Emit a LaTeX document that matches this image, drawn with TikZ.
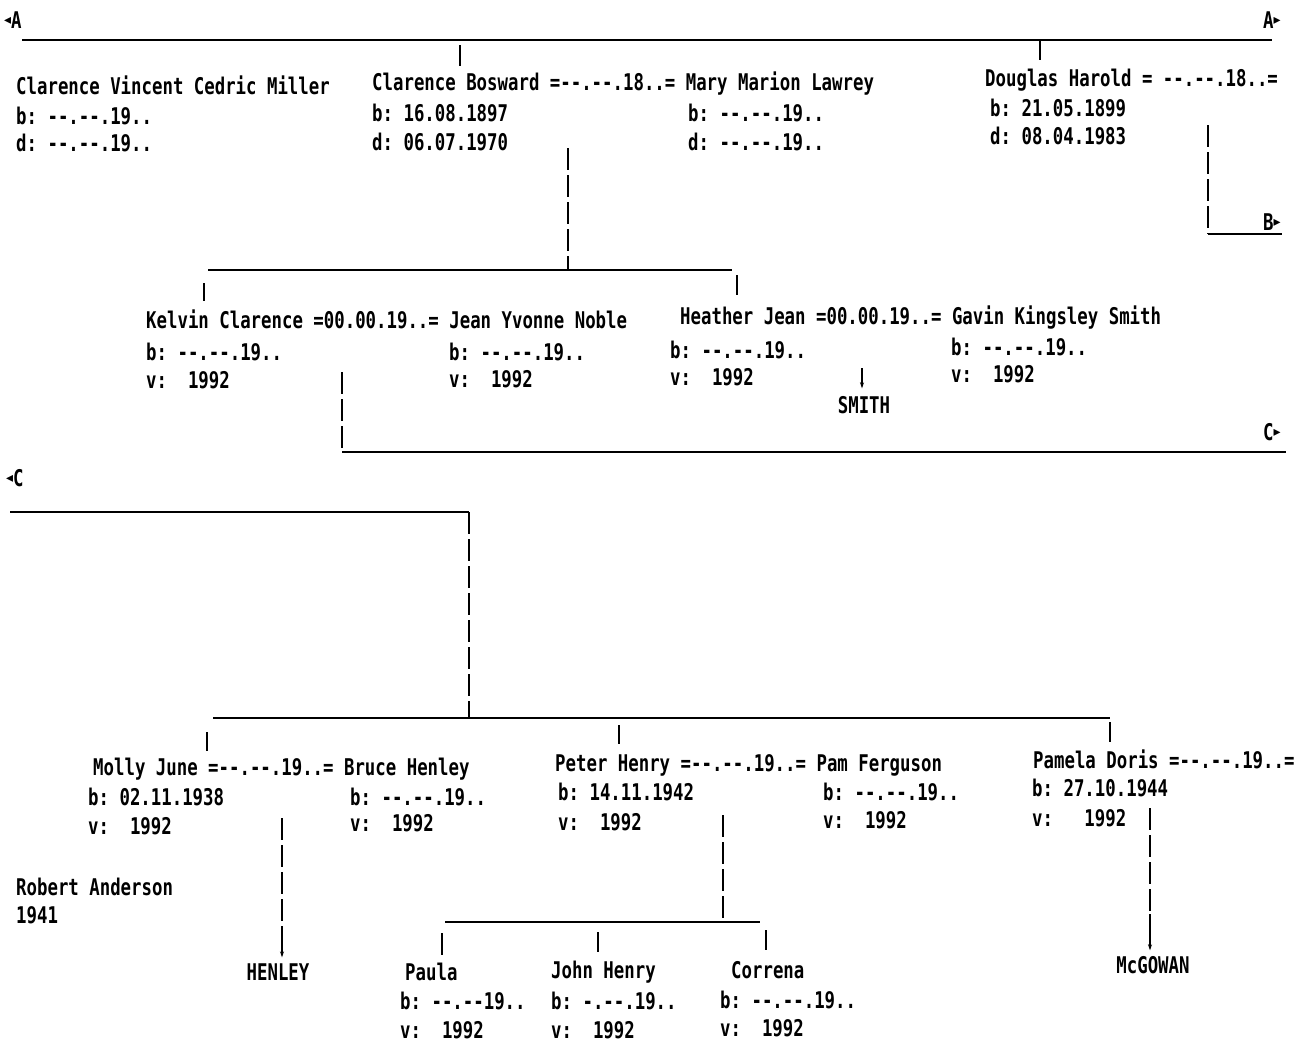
\documentclass[tikz,border=0pt]{standalone}
\usepackage{fontspec}
\setmonofont[FakeStretch=0.755]{DejaVu Sans Mono}
\newfontfamily\symfont{DejaVu Sans}
\usetikzlibrary{arrows.meta}
\newcommand{\lt}{\raisebox{4pt}{\symfont\fontsize{14}{14}\selectfont ◂}}
\newcommand{\rt}{\raisebox{4pt}{\symfont\fontsize{14}{14}\selectfont ▸}}
\begin{document}
\begin{tikzpicture}[x=1pt,y=-1pt,
  txt/.style={anchor=west,inner sep=0pt,font=\ttfamily\bfseries\fontsize{23}{23}\selectfont,text height=17pt,text depth=0pt},
  ctxt/.style={txt,anchor=center},
  ln/.style={line width=1.8pt,black},
  vln/.style={ln,dash pattern=on 22pt off 5pt},
  arr/.style={ln,-{Stealth[length=6pt,width=4pt]}}]
\useasboundingbox (0,0) rectangle (1298,1045);

% ---------- markers ----------
\node[txt] (mAl) at (4,20) {\lt A};
\node[txt] (mAr) at (1263,20) {A\rt};
\node[txt] (mB) at (1263,222) {B\rt};
\node[txt] (mCr) at (1263,432) {C\rt};
\node[txt] (mCl) at (6,478) {\lt C};

% ---------- generation 1 ----------
\node[txt] (p1) at (16,86) {Clarence Vincent Cedric Miller};
\node[txt] (p1b) at (16,116) {b: --.--.19..};
\node[txt] (p1d) at (16,143) {d: --.--.19..};

\node[txt] (p2) at (372,82) {Clarence Bosward =--.--.18..= Mary Marion Lawrey};
\node[txt] (p2b) at (372,113) {b: 16.08.1897};
\node[txt] (p2d) at (372,142) {d: 06.07.1970};
\node[txt] (p3b) at (688,113) {b: --.--.19..};
\node[txt] (p3d) at (688,142) {d: --.--.19..};

\node[txt] (p4) at (985,78) {Douglas Harold = --.--.18..=};
\node[txt] (p4b) at (990,108) {b: 21.05.1899};
\node[txt] (p4d) at (990,136) {d: 08.04.1983};

\coordinate (a1) at (22,40);
\coordinate (a2) at (1272,40);
\draw[ln] (a1) -- (a2);
\coordinate (t1a) at (460,45); \coordinate (t1b) at (460,66);
\draw[ln] (t1a) -- (t1b);
\coordinate (t2a) at (1040,40); \coordinate (t2b) at (1040,60);
\draw[ln] (t2a) -- (t2b);

\coordinate (b1) at (1208,125); \coordinate (b2) at (1208,234); \coordinate (b3) at (1282,234);
\draw[vln] (b1) -- (b2);
\draw[ln] (b2) -- (b3);

% descent of Clarence Bosward
\coordinate (d1a) at (568,148); \coordinate (d1b) at (568,270);
\draw[vln] (d1a) -- (d1b);
\coordinate (h1a) at (208,270); \coordinate (h1b) at (732,270);
\draw[ln] (h1a) -- (h1b);
\coordinate (k1a) at (204,283); \coordinate (k1b) at (204,301);
\draw[ln] (k1a) -- (k1b);
\coordinate (k2a) at (737,275); \coordinate (k2b) at (737,295);
\draw[ln] (k2a) -- (k2b);

% ---------- generation 2 ----------
\node[txt] (kc) at (146,320) {Kelvin Clarence =00.00.19..= Jean Yvonne Noble};
\node[txt] (kcb) at (146,352) {b: --.--.19..};
\node[txt] (kcv) at (146,380) {v:~~1992};
\node[txt] (jnb) at (449,352) {b: --.--.19..};
\node[txt] (jnv) at (449,379) {v:~~1992};

\node[txt] (hj) at (680,316) {Heather Jean =00.00.19..= Gavin Kingsley Smith};
\node[txt] (hjb) at (670,350) {b: --.--.19..};
\node[txt] (hjv) at (670,377) {v:~~1992};
\node[txt] (gkb) at (951,347) {b: --.--.19..};
\node[txt] (gkv) at (951,374) {v:~~1992};

\node[ctxt] (smith) at (864,405) {SMITH};
\coordinate (s1) at (862,368);
\draw[arr,shorten >=8pt] (s1) -- (s1 |- smith.north);

\coordinate (c1) at (342,372); \coordinate (c2) at (342,452); \coordinate (c3) at (1286,452);
\draw[vln] (c1) -- (c2);
\draw[ln] (c2) -- (c3);

% ---------- generation 3 ----------
\coordinate (cl1) at (10,512); \coordinate (cl2) at (469,512);
\draw[ln] (cl1) -- (cl2);
\coordinate (cv2) at (469,718);
\draw[vln] (cl2) -- (cv2);
\coordinate (h3a) at (213,718); \coordinate (h3b) at (1110,718);
\draw[ln] (h3a) -- (h3b);
\coordinate (k3a) at (207,732); \coordinate (k3b) at (207,751);
\draw[ln] (k3a) -- (k3b);
\coordinate (k4a) at (619,725); \coordinate (k4b) at (619,744);
\draw[ln] (k4a) -- (k4b);
\coordinate (k5a) at (1110,722); \coordinate (k5b) at (1110,742);
\draw[ln] (k5a) -- (k5b);

\node[txt] (mj) at (93,767) {Molly June =--.--.19..= Bruce Henley};
\node[txt] (mjb) at (88,797) {b: 02.11.1938};
\node[txt] (mjv) at (88,826) {v:~~1992};
\node[txt] (bhb) at (350,797) {b: --.--.19..};
\node[txt] (bhv) at (350,823) {v:~~1992};

\node[txt] (ra) at (16,887) {Robert Anderson};
\node[txt] (ray) at (16,915) {1941};

\node[ctxt] (henley) at (278,972) {HENLEY};
\coordinate (hn1) at (282,818);
\draw[vln] (hn1) -- ++(0,108) coordinate (hn2);
\draw[arr,shorten >=6pt] (hn2) -- (henley.north -| hn1);

\node[txt] (ph) at (555,763) {Peter Henry =--.--.19..= Pam Ferguson};
\node[txt] (phb) at (558,792) {b: 14.11.1942};
\node[txt] (phv) at (558,822) {v:~~1992};
\node[txt] (pfb) at (823,792) {b: --.--.19..};
\node[txt] (pfv) at (823,820) {v:~~1992};

\coordinate (pd1) at (723,815); \coordinate (pd2) at (723,922);
\draw[vln] (pd1) -- (pd2);
\coordinate (h4a) at (445,922); \coordinate (h4b) at (760,922);
\draw[ln] (h4a) -- (h4b);
\coordinate (k6a) at (442,933); \coordinate (k6b) at (442,955);
\draw[ln] (k6a) -- (k6b);
\coordinate (k7a) at (598,932); \coordinate (k7b) at (598,952);
\draw[ln] (k7a) -- (k7b);
\coordinate (k8a) at (766,930); \coordinate (k8b) at (766,950);
\draw[ln] (k8a) -- (k8b);

\node[txt] (pa) at (405,972) {Paula};
\node[txt] (pab) at (400,1001) {b: --.--19..};
\node[txt] (pav) at (400,1030) {v:~~1992};
\node[txt] (jh) at (551,970) {John Henry};
\node[txt] (jhb) at (551,1001) {b: -.--.19..};
\node[txt] (jhv) at (551,1030) {v:~~1992};
\node[txt] (co) at (731,970) {Correna};
\node[txt] (cob) at (720,1000) {b: --.--.19..};
\node[txt] (cov) at (720,1028) {v:~~1992};

\node[txt] (pd) at (1033,760) {Pamela Doris =--.--.19..=};
\node[txt] (pdb) at (1032,788) {b: 27.10.1944};
\node[txt] (pdv) at (1032,818) {v:~~~1992};

\node[ctxt] (mcg) at (1153,965) {McGOWAN};
\coordinate (mg1) at (1150,808);
\draw[vln] (mg1) -- ++(0,106) coordinate (mg2);
\draw[arr,shorten >=6pt] (mg2) -- (mcg.north -| mg1);
\end{tikzpicture}
\end{document}
